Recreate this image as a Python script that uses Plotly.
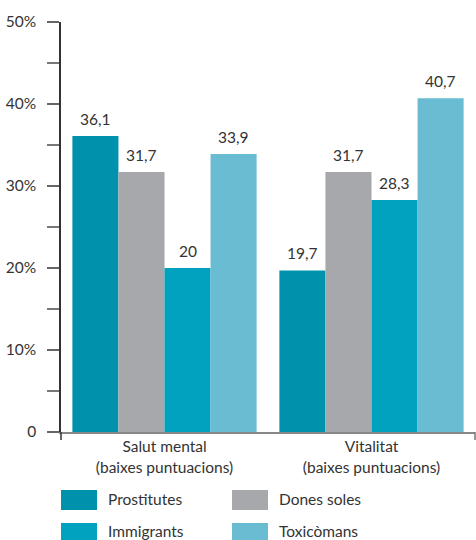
import plotly.graph_objects as go

# Categories (x axis) and series values in percent
categories = ["Salut mental<br>(baixes puntuacions)", "Vitalitat<br>(baixes puntuacions)"]
series_names = ["Prostitutes", "Dones soles", "Immigrants", "Toxicòmans"]
prostitutes = [36.1, 19.7]
dones_soles = [31.7, 31.7]
immigrants = [20, 28.3]
toxicomans = [33.9, 40.7]
series_values = [prostitutes, dones_soles, immigrants, toxicomans]
colors = ["#0091AD", "#A7A8AB", "#00A2BF", "#69BCD1"]

y_tickvals = [0, 10, 20, 30, 40, 50]
y_ticktext = ["0", "10%", "20%", "30%", "40%", "50%"]

FONT = "Lato, 'Open Sans', sans-serif"
TXT = "#333333"
BARGAP = 0.11


def fmt(v):
    return f"{v:g}".replace(".", ",")


fig = go.Figure()
for name, vals, col in zip(series_names, series_values, colors):
    fig.add_trace(go.Bar(
        x=categories, y=vals, name=name,
        marker=dict(color=col, line=dict(width=0)),
        showlegend=False,
        hovertemplate="%{y}<extra>" + name + "</extra>",
    ))

annotations = []
# value labels above each bar, placed at the bar's slot within its group
n = len(series_names)
slot = (1 - BARGAP) / n
for j, vals in enumerate(series_values):
    for i, v in enumerate(vals):
        annotations.append(dict(
            x=i + (j - (n - 1) / 2) * slot, y=v, xref="x", yref="y",
            text=fmt(v), showarrow=False, yanchor="bottom", yshift=6,
            font=dict(family=FONT, size=15.5, color=TXT)))

# plot-area geometry in pixels, used for the hand-built legend
L, R, T, B = 61, 1, 22, 108
W, H = 476, 540
pw, ph = W - L - R, H - T - B


def px_x(px):
    return (px - L) / pw


def px_y(py):
    return (H - B - py) / ph


shapes = []
legend_pos = [(61, 490, 106, 499), (232, 490, 277, 499),
              (61, 523, 106, 531), (232, 523, 277, 531)]
for name, col, (sx, sy, tx, ty) in zip(series_names, colors, legend_pos):
    shapes.append(dict(type="rect", xref="paper", yref="paper",
                       x0=px_x(sx), x1=px_x(sx + 36),
                       y0=px_y(sy), y1=px_y(sy + 20),
                       fillcolor=col, line=dict(width=0)))
    annotations.append(dict(text=name, xref="paper", yref="paper",
                            x=px_x(tx), y=px_y(ty), xanchor="left", yanchor="middle",
                            showarrow=False, font=dict(family=FONT, size=15.5, color=TXT)))

# end ticks of the category axis
for xp, col in [(0, "#333333"), (1, "#777777")]:
    shapes.append(dict(type="line", xref="paper", yref="paper",
                       x0=xp, x1=xp, y0=0, y1=px_y(440),
                       line=dict(color=col, width=1.5)))

fig.update_layout(
    width=W, height=H,
    margin=dict(l=L, r=R, t=T, b=B),
    paper_bgcolor="white", plot_bgcolor="white",
    barmode="group", bargap=BARGAP, bargroupgap=0,
    font=dict(family=FONT, size=15, color=TXT),
    shapes=shapes, annotations=annotations,
    xaxis=dict(showline=True, linecolor="#888888", linewidth=1.5,
               ticks="", tickfont=dict(family=FONT, size=15.5, color=TXT),
               showgrid=False, zeroline=False, fixedrange=True),
    yaxis=dict(range=[0, 50], tickvals=y_tickvals, ticktext=y_ticktext,
               showline=True, linecolor="#333333", linewidth=1.5,
               ticks="outside", ticklen=12, tickcolor="#666666", tickwidth=1.5,
               minor=dict(tickvals=[5, 15, 25, 35, 45], ticks="outside", ticklen=12,
                          tickcolor="#777777", tickwidth=1.5),
               ticklabelstandoff=8,
               tickfont=dict(family=FONT, size=15.5, color=TXT),
               showgrid=False, zeroline=False, fixedrange=True),
)

fig.write_html("out.html")
